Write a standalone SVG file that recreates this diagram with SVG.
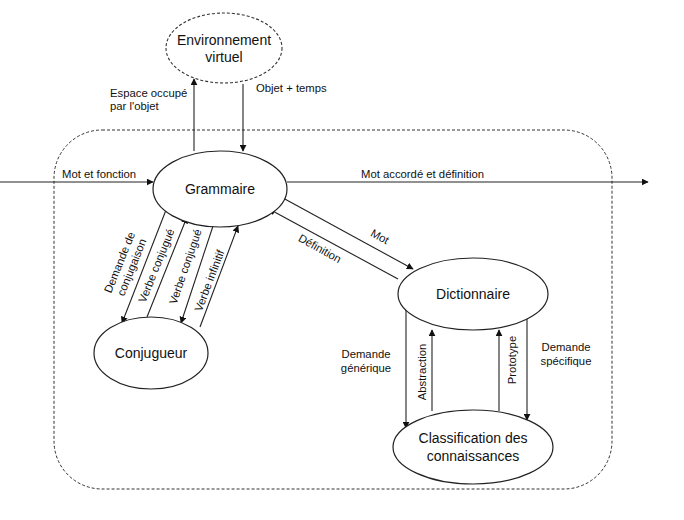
<svg xmlns="http://www.w3.org/2000/svg" width="684" height="520" viewBox="0 0 684 520">
<defs>
<marker id="ah" viewBox="0 0 10 10" refX="9" refY="5" markerWidth="7" markerHeight="7" orient="auto" markerUnits="userSpaceOnUse"><path d="M0,0 L10,5 L0,10 z" fill="#111"/></marker>
<style>
.n{fill:#fff;stroke:#222;stroke-width:1.2}
.nt{font-family:"Liberation Sans",Arial,sans-serif;font-size:14px;fill:#111;text-anchor:middle}
.l{font-family:"Liberation Sans",Arial,sans-serif;font-size:11.3px;fill:#111}
.c{stroke:#222;stroke-width:1.1;fill:none}
.a{marker-end:url(#ah)}
</style>
</defs>
<rect width="684" height="520" fill="#fff"/>
<g id="frontiere">
<rect x="54" y="130" width="558" height="359" rx="48" ry="48" fill="none" stroke="#333" stroke-width="1" stroke-dasharray="3 2"/>
</g>
<g id="connecteurs">
<line class="c a" x1="194" y1="151" x2="194" y2="79"/>
<line class="c a" x1="243" y1="84" x2="243" y2="151"/>
<line class="c a" x1="0" y1="182" x2="153" y2="182"/>
<line class="c a" x1="287" y1="182" x2="648" y2="182"/>
<line class="c a" x1="166" y1="210" x2="122" y2="323"/>
<line class="c a" x1="147" y1="317" x2="187" y2="217"/>
<line class="c a" x1="214" y1="223" x2="181" y2="323"/>
<line class="c a" x1="200" y1="327" x2="238" y2="226"/>
<line class="c a" x1="283" y1="198" x2="413" y2="269"/>
<line class="c a" x1="398" y1="279" x2="269" y2="209"/>
<line class="c a" x1="406" y1="310" x2="406" y2="428"/>
<line class="c a" x1="432" y1="411" x2="432" y2="330"/>
<line class="c a" x1="499" y1="411" x2="499" y2="330"/>
<line class="c a" x1="527" y1="318" x2="527" y2="420"/>
<text class="l" x="110" y="97">Espace occupé</text>
<text class="l" x="110" y="110">par l'objet</text>
<text class="l" x="256" y="92">Objet + temps</text>
<text class="l" x="62" y="178">Mot et fonction</text>
<text class="l" x="361" y="178">Mot accordé et définition</text>
<g transform="translate(126,265) rotate(-68)"><text class="l" text-anchor="middle" x="0" y="-3">Demande de</text><text class="l" text-anchor="middle" x="0" y="10">conjugaison</text></g>
<text class="l" text-anchor="middle" transform="translate(160,267) rotate(-68)">Verbe conjugué</text>
<text class="l" text-anchor="middle" transform="translate(189,268) rotate(-71)">Verbe conjugué</text>
<text class="l" text-anchor="middle" transform="translate(213,282) rotate(-69)">Verbe infinitif</text>
<text class="l" text-anchor="middle" transform="translate(378,240) rotate(29)">Mot</text>
<text class="l" text-anchor="middle" transform="translate(318,252) rotate(29)">Définition</text>
<text class="l" text-anchor="middle" x="366" y="358">Demande</text>
<text class="l" text-anchor="middle" x="366" y="372">générique</text>
<text class="l" text-anchor="middle" x="566" y="351">Demande</text>
<text class="l" text-anchor="middle" x="566" y="365">spécifique</text>
<text class="l" text-anchor="middle" transform="translate(426,372) rotate(-90)">Abstraction</text>
<text class="l" text-anchor="middle" transform="translate(516,360) rotate(-90)">Prototype</text>
</g>
<g id="environnement">
<ellipse cx="224" cy="48" rx="58" ry="35" fill="#fff" stroke="#333" stroke-width="1.1" stroke-dasharray="3 2"/>
<text class="nt" x="224" y="45">Environnement</text>
<text class="nt" x="224" y="62">virtuel</text>
</g>
<g id="grammaire">
<ellipse class="n" cx="220" cy="189" rx="67" ry="38"/>
<text class="nt" x="220" y="194">Grammaire</text>
</g>
<g id="conjugueur">
<ellipse class="n" cx="151" cy="353" rx="57" ry="36"/>
<text class="nt" x="151" y="358">Conjugueur</text>
</g>
<g id="dictionnaire">
<ellipse class="n" cx="473" cy="294" rx="75" ry="36"/>
<text class="nt" x="473" y="299">Dictionnaire</text>
</g>
<g id="classification">
<ellipse class="n" cx="473" cy="447" rx="80" ry="37"/>
<text class="nt" x="473" y="443">Classification des</text>
<text class="nt" x="473" y="461">connaissances</text>
</g>
</svg>
